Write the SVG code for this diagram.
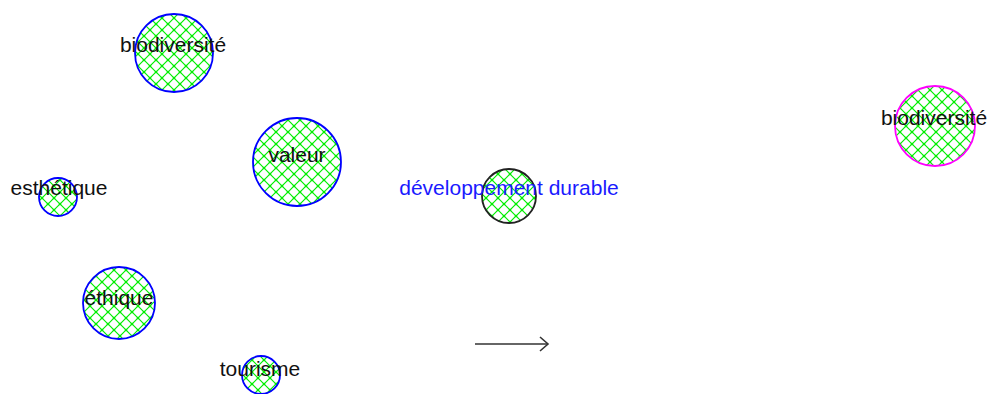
<svg xmlns="http://www.w3.org/2000/svg" width="987" height="394" viewBox="0 0 987 394">
<style>
.node{fill:url(#hatch);stroke-width:1.8}
.blue{stroke:#0000ff}
.black{stroke:#222222}
.mag{stroke:#ff00ff}
text{font-family:"Liberation Sans",Arial,sans-serif;font-size:21px;text-anchor:middle;fill:#111111}
.btext{fill:#1a1aff}
.conn{stroke:#333333;stroke-width:1.6;fill:none}
</style>
<defs>
<pattern id="hatch" patternUnits="userSpaceOnUse" width="12" height="12">
<rect width="12" height="12" fill="#ffffff"/>
<path d="M0 0L12 12M12 0L0 12" stroke="#00ee00" stroke-width="1.2"/>
<circle cx="6" cy="6" r="1.3" fill="#00ee00"/>
<circle cx="0" cy="0" r="1.3" fill="#00ee00"/>
<circle cx="12" cy="0" r="1.3" fill="#00ee00"/>
<circle cx="0" cy="12" r="1.3" fill="#00ee00"/>
<circle cx="12" cy="12" r="1.3" fill="#00ee00"/>
</pattern>
<marker id="open" markerWidth="12" markerHeight="16" refX="9" refY="8" orient="auto" markerUnits="userSpaceOnUse">
<path d="M1 1L9 8L1 15" fill="none" stroke="#333333" stroke-width="1.6"/>
</marker>
</defs>
<rect width="987" height="394" fill="#ffffff"/>
<g id="connectors">
<line class="conn" x1="475" y1="344" x2="548" y2="344" marker-end="url(#open)"/>
</g>
<g id="n-biodiversite-1">
<circle class="node blue" cx="174" cy="53" r="39"/>
<text x="173" y="52">biodiversité</text>
</g>
<g id="n-valeur">
<circle class="node blue" cx="297" cy="162" r="44"/>
<text x="297" y="162">valeur</text>
</g>
<g id="n-esthetique">
<circle class="node blue" cx="58" cy="197" r="19"/>
<text x="59" y="195">esthétique</text>
</g>
<g id="n-ethique">
<circle class="node blue" cx="119" cy="303" r="36"/>
<text x="119" y="305">éthique</text>
</g>
<g id="n-tourisme">
<circle class="node blue" cx="261" cy="375" r="19"/>
<text x="260" y="376">tourisme</text>
</g>
<g id="n-developpement-durable">
<circle class="node black" cx="509" cy="196" r="27"/>
<text class="btext" x="509" y="195">développement durable</text>
</g>
<g id="n-biodiversite-2">
<circle class="node mag" cx="935" cy="126" r="40"/>
<text x="934" y="125">biodiversité</text>
</g>
</svg>
